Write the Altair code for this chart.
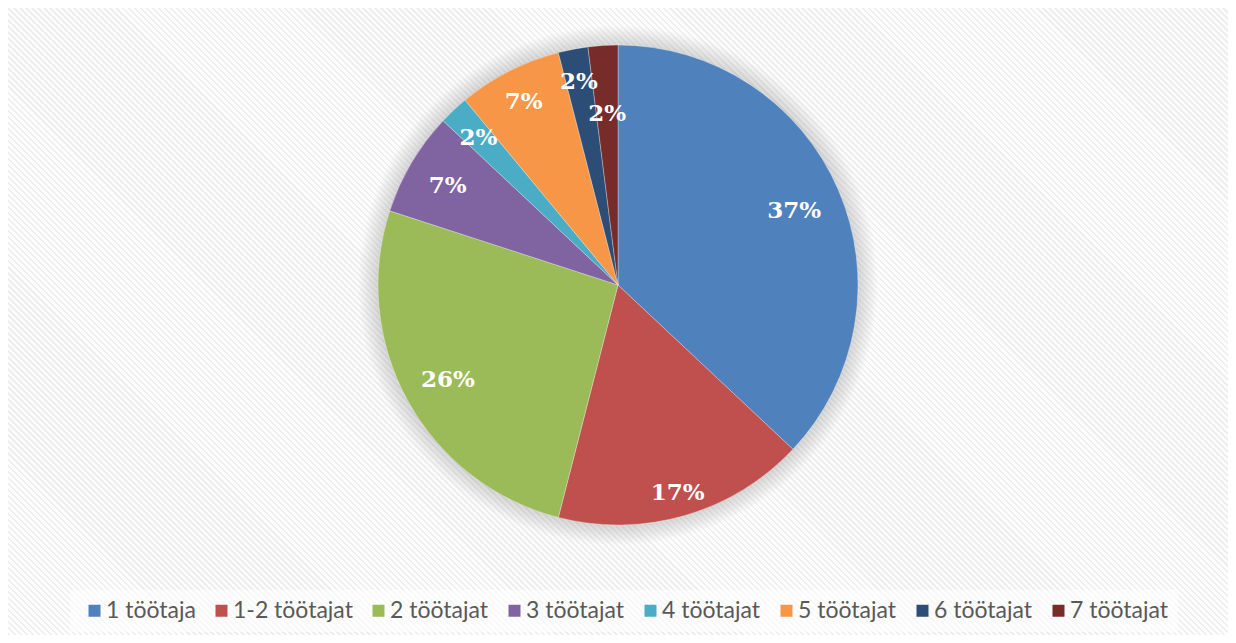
import altair as alt
import pandas as pd

# ---- data ----
categories = ["1 töötaja", "1-2 töötajat", "2 töötajat", "3 töötajat",
              "4 töötajat", "5 töötajat", "6 töötajat", "7 töötajat"]
shares = [37, 17, 26, 7, 2, 7, 2, 2]

# ---- styling ----
colors = ["#4f81bd", "#c0504d", "#9bbb59", "#8064a2",
          "#4bacc6", "#f79646", "#2c4d75", "#772c2a"]
# Excel "best fit" label distances from the pie centre (styling only)
label_radius = {"1 töötaja": 192, "1-2 töötajat": 214, "2 töötajat": 194,
                "3 töötajat": 198, "4 töötajat": 204, "5 töötajat": 208,
                "6 töötajat": 209, "7 töötajat": 173}

W, H = 1220, 627
CX, CY = 610, 277
R = 240

# diagonal pin-stripe texture of the chart area (style only)
STRIPE_PERIOD = 6.0
n_stripes = int((W + H) / STRIPE_PERIOD)
stops = []
for k in range(n_stripes):
    a = k / n_stripes
    b = (k + 0.42) / n_stripes
    c = (k + 1) / n_stripes
    stops += [alt.GradientStop(offset=a, color="#eeeeee"),
              alt.GradientStop(offset=b, color="#eeeeee"),
              alt.GradientStop(offset=b, color="#fdfdfd"),
              alt.GradientStop(offset=c, color="#fdfdfd")]
r_ = H / W
ext = (W + H) / (W * (1 + r_ * r_))
texture = alt.Chart(pd.DataFrame({"a": [1]})).mark_rect(
    color=alt.Gradient(gradient="linear", x1=0, y1=1, x2=ext, y2=1 - ext * r_,
                       stops=stops),
).encode(x=alt.value(0), x2=alt.value(W), y=alt.value(0), y2=alt.value(H))

df = pd.DataFrame({
    "cat": categories,
    "share": shares,
    "idx": list(range(len(categories))),
})
df["lbl"] = [f"{v}%" for v in shares]
df["lr"] = [label_radius[c] for c in categories]

color_scale = alt.Scale(domain=categories, range=colors)

# soft glow behind the pie
glow = alt.Chart(pd.DataFrame({"a": [1]})).mark_arc(
    theta=0, theta2=6.2832, radius=R + 20,
    color=alt.Gradient(
        gradient="radial",
        x1=0.5, y1=0.5, r1=0, x2=0.5, y2=0.5, r2=0.5,
        stops=[alt.GradientStop(offset=0, color="rgba(140,140,140,0.36)"),
               alt.GradientStop(offset=R / (R + 20), color="rgba(140,140,140,0.34)"),
               alt.GradientStop(offset=1, color="rgba(140,140,140,0)")],
    ),
).encode(x=alt.value(CX), y=alt.value(CY))

pie = alt.Chart(df).mark_arc(
    radius=R, stroke="#ffffff", strokeWidth=0.6, strokeOpacity=0.5
).encode(
    theta=alt.Theta("share:Q", stack=True),
    order=alt.Order("idx:Q"),
    x=alt.value(CX),
    y=alt.value(CY),
    color=alt.Color(
        "cat:N", scale=color_scale, sort=categories,
        legend=alt.Legend(
            title=None, orient="none", direction="horizontal",
            legendX=62, legendY=582, columns=8,
            symbolType="square", symbolSize=144, symbolStrokeWidth=0,
            symbolOffset=4,
            labelFont="Lato", labelFontSize=23, labelColor="#595959",
            labelOffset=0, columnPadding=10, labelLimit=0,
            fillColor="rgba(255,255,255,0.6)", padding=9,
        ),
    ),
)

# label angle = middle of each slice, from the cumulative shares
labels = alt.Chart(df).transform_joinaggregate(
    total="sum(share)"
).transform_window(
    cum="sum(share)", sort=[alt.SortField("idx")], frame=[None, 0]
).transform_calculate(
    mid="(datum.cum - datum.share / 2) / datum.total"
).mark_text(
    font="DejaVu Serif", fontWeight="bold", fontSize=23, dy=2,
    color="#ffffff", align="center", baseline="middle",
).encode(
    theta=alt.Theta("mid:Q", scale=alt.Scale(domain=[0, 1], range=[0, 6.283185307])),
    radius=alt.Radius("lr:Q", scale=None),
    x=alt.value(CX),
    y=alt.value(CY),
    text="lbl:N",
)

chart = alt.layer(texture, glow, pie, labels).resolve_scale(
    theta="independent", radius="independent"
).properties(
    width=W, height=H,
    autosize=alt.AutoSizeParams(type="none"),
    padding=0,
    background="#ffffff",
).configure_view(
    fill="#f7f7f7", stroke="#d9d9d9", strokeWidth=2,
)

chart.save("out.html", embed_options={"renderer": "svg", "actions": False})
